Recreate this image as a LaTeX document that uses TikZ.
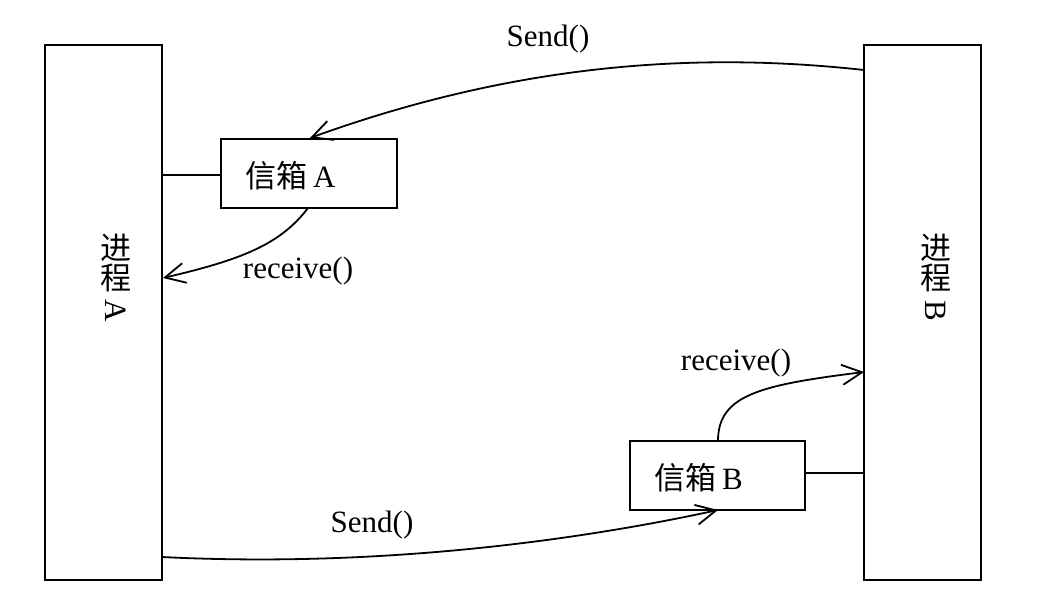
\documentclass[tikz,border=0pt]{standalone}
\usepackage{fontspec}
\setmainfont{Liberation Serif}
\newfontfamily\cjk{Noto Sans CJK SC}
\usetikzlibrary{arrows.meta}
\begin{document}
\begin{tikzpicture}[x=1pt,y=-1pt,
  box/.style={draw,line width=1.8pt,inner sep=0pt},
  conn/.style={line width=1.8pt},
  arr/.style={conn,-{Straight Barb[length=20pt,width=20pt,line width=1.8pt]}},
  lbl/.style={font=\fontsize{31}{33}\selectfont,inner sep=0pt}]
\useasboundingbox (0,0) rectangle (1061,599);
\node[box,minimum width=117pt,minimum height=535pt] (pa) at (103.5,312.5) {};
\node[box,minimum width=117pt,minimum height=535pt] (pb) at (922.5,312.5) {};
\node[box,minimum width=176pt,minimum height=69pt] (ma) at (309,173.5) {};
\node[box,minimum width=175pt,minimum height=69pt] (mb) at (717.5,475.5) {};
\node[lbl,anchor=west] (mat) at (245,176) {{\cjk 信箱}\hspace{6pt}A};
\node[lbl,anchor=west] (mbt) at (654,478) {{\cjk 信箱}\hspace{6pt}B};
\node[lbl] (va1) at (116,248) {\cjk 进};
\node[lbl] (va2) at (116,278) {\cjk 程};
\node[lbl] (va3) at (116,311) {\rotatebox{-90}{A}};
\node[lbl] (vb1) at (936,248) {\cjk 进};
\node[lbl] (vb2) at (936,278) {\cjk 程};
\node[lbl] (vb3) at (936,311) {\rotatebox{-90}{B}};
\coordinate (a1) at (162,175);
\coordinate (b1) at (864,473);
\draw[conn] (a1) -- (ma.west |- a1);
\draw[conn] (mb.east |- b1) -- (b1);
\coordinate (s1) at (864,70);
\coordinate (s1e) at (310,138);
\draw[arr] (s1) .. controls (700,52) and (520,62) .. (s1e);
\node[lbl] (ls1) at (548,39) {Send()};
\coordinate (r1s) at (308,208);
\coordinate (r1e) at (163,278);
\draw[arr] (r1s) .. controls (280,245) and (240,260) .. (r1e);
\node[lbl] (lr1) at (298,271) {receive()};
\coordinate (r2s) at (718,441);
\coordinate (r2e) at (864,372);
\draw[arr] (r2s) .. controls (718,395) and (760,385) .. (r2e);
\node[lbl] (lr2) at (736,363) {receive()};
\coordinate (s2) at (162,557);
\coordinate (s2e) at (718,510);
\draw[arr] (s2) .. controls (380,568) and (580,540) .. (s2e);
\node[lbl] (ls2) at (372,525) {Send()};
\end{tikzpicture}
\end{document}
